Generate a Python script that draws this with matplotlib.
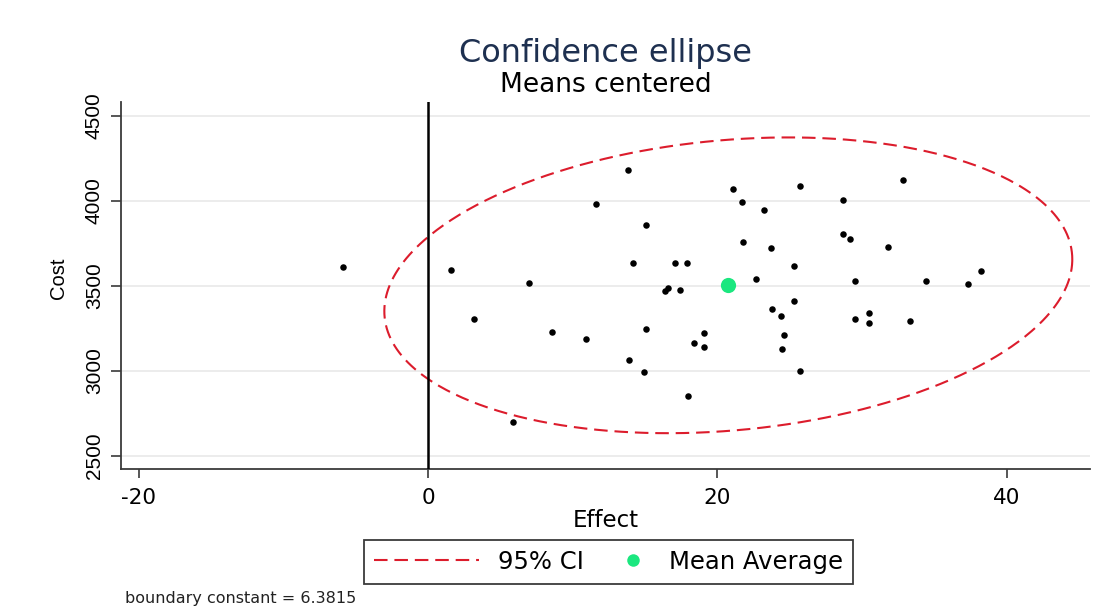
import numpy as np
from matplotlib import pyplot as plt
from matplotlib.lines import Line2D
from matplotlib.legend_handler import HandlerLine2D

plt.rcParams['axes.unicode_minus'] = False

# data
effect = [-5.9, 1.6, 3.2, 5.9, 7.0, 8.6, 10.9, 11.6, 13.8, 13.9,
          14.2, 14.9, 15.1, 15.1, 16.4, 16.6, 17.1, 17.4, 17.9, 18.0,
          18.4, 19.1, 19.1, 21.1, 21.7, 21.8, 22.7, 23.2, 23.7, 23.8,
          24.4, 24.5, 24.6, 25.3, 25.3, 25.7, 25.7, 28.7, 28.7, 29.2,
          29.5, 29.5, 30.5, 30.5, 31.8, 32.8, 33.3, 34.4, 37.3, 38.2]
cost = [3612, 3594, 3308, 2698, 3519, 3229, 3186, 3984, 4182, 3065,
        3635, 2992, 3249, 3859, 3472, 3486, 3635, 3476, 3637, 2851,
        3167, 3225, 3141, 4071, 3996, 3759, 3539, 3945, 3724, 3365,
        3322, 3131, 3212, 3616, 3414, 4086, 2998, 4004, 3806, 3778,
        3527, 3306, 3341, 3284, 3729, 4125, 3292, 3528, 3510, 3588]
bound_c = 6.3815

xticks = [-20, 0, 20, 40]
xticklabels = ['-20', '0', '20', '40']
yticks = [2500, 3000, 3500, 4000, 4500]
yticklabels = ['2500', '3000', '3500', '4000', '4500']

RED = '#dc1c2c'
GREEN = '#1be77f'
DARK = '#3a3a3a'
DASH = (0, (6.5, 3.3))

# confidence ellipse from the sample mean and covariance
mx, my = np.mean(effect), np.mean(cost)
L = np.linalg.cholesky(np.cov(effect, cost))
t = np.linspace(0, 2 * np.pi, 500)
circ = np.vstack([np.cos(t), np.sin(t)])
ell = np.sqrt(bound_c) * (L @ circ)
ex, ey = mx + ell[0], my + ell[1]

fig = plt.figure(figsize=(11.07, 6.08), dpi=100)
ax = fig.add_axes([0.109, 0.2286, 0.8756, 0.6036])

ax.plot(ex, ey, color=RED, lw=1.5, ls=DASH, zorder=2)
ax.scatter(effect, cost, s=22, color='black', linewidths=0, zorder=3)
ax.scatter([mx], [my], s=120, color=GREEN, linewidths=0, zorder=4)
ax.axvline(0, color='black', lw=1.8, zorder=3)

ax.set_xlim(-21.24, 45.75)
ax.set_ylim(2423.5, 4582)
ax.set_xticks(xticks, labels=xticklabels, fontsize=15.5, family='DejaVu Sans')
ax.set_yticks(yticks, labels=yticklabels, fontsize=15, family='Liberation Sans',
              rotation=90, va='center')
ax.tick_params(axis='x', length=6.5, width=1.2, color=DARK, pad=7)
ax.tick_params(axis='y', length=7, width=1.2, color=DARK, pad=5)

ax.yaxis.grid(True, color='#eaeaea', lw=1.3)
ax.set_axisbelow(True)
for s in ['top', 'right']:
    ax.spines[s].set_visible(False)
for s in ['left', 'bottom']:
    ax.spines[s].set_color(DARK)
    ax.spines[s].set_linewidth(1.3)

ax.set_xlabel('Effect', fontsize=16.5, family='DejaVu Sans', labelpad=1)
ax.set_ylabel('Cost', fontsize=14.5, family='Liberation Sans')
ax.yaxis.set_label_coords(-0.054, 0.52)

fig.text(0.547, 0.898, 'Confidence ellipse', ha='center', va='baseline',
         fontsize=23, color='#1e3050')
fig.text(0.547, 0.849, 'Means centered', ha='center', va='baseline',
         fontsize=19, color='black')
fig.text(0.113, 0.0082, 'boundary constant = 6.3815', ha='left', va='baseline',
         fontsize=11.5, color='#222222')


class RightMarker(HandlerLine2D):
    # single marker sits near the right end of the handle box
    def get_xdata(self, legend, xdescent, ydescent, width, height, fontsize):
        xm = -xdescent + width - 0.7 * fontsize
        return [xm - 1, xm + 1], [xm]


h_ci = Line2D([], [], color=RED, lw=1.5, ls=DASH)
h_mean = Line2D([], [], ls='', marker='o', markersize=9, color=GREEN, markeredgewidth=0)
leg = fig.legend([h_ci, h_mean], ['95% CI', 'Mean Average'], ncol=2,
                 loc='center', bbox_to_anchor=(608.5 / 1107, 1 - 562 / 608),
                 fontsize=17.5, handlelength=4.3, handletextpad=0.78,
                 columnspacing=-1.56, borderpad=0.42, fancybox=False,
                 framealpha=1, edgecolor=DARK,
                 handler_map={h_mean: RightMarker()})
leg.get_frame().set_linewidth(1.3)

fig.savefig('out.png', dpi=100, facecolor='white')
